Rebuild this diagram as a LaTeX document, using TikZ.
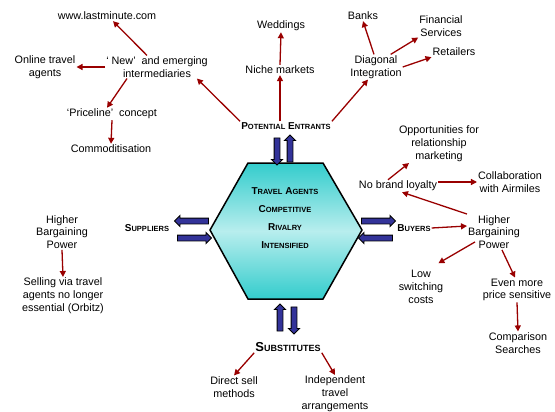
\documentclass[tikz,border=0pt]{standalone}
\usepackage{fontspec}
\setmainfont{Liberation Sans}
\usetikzlibrary{arrows.meta,shapes.arrows}
\definecolor{arrowred}{HTML}{990000}
\definecolor{blockblue}{HTML}{333399}
\definecolor{hexteal}{HTML}{33CCCC}
\definecolor{hexlight}{HTML}{B8EEEE}
\newcommand{\smcap}[2]{{\fontsize{10}{11}\selectfont #1}{\fontsize{7.5}{8}\selectfont #2}}
\tikzset{
  lbl/.style={align=center, inner sep=1pt, font=\fontsize{10.8}{12.8}\selectfont},
  force/.style={inner sep=1pt, font=\bfseries},
  block/.style={single arrow, draw=black, fill=blockblue, line width=0.9pt,
    inner sep=2.5pt, single arrow head extend=2.5pt, minimum height=#1},
  block/.default=27pt,
}
\begin{document}
\begin{tikzpicture}[x=1pt, y=-1pt, >={Triangle[length=6pt,width=6pt]},
    every edge/.style={draw, arrowred, line width=1.3pt}]
    \useasboundingbox (0,0) rectangle (555,412);
    \path[draw, line width=1.5pt, top color=hexteal, bottom color=hexteal, middle color=hexlight]
      (248,163) -- (323,163) -- (362,230) -- (323,299) -- (248,299) -- (210,230) -- cycle;
    \node (rivalry) at (285,218) [align=center, inner sep=1pt, font=\bfseries]
      {\smcap{T}{RAVEL} \smcap{A}{GENTS}\\[6pt]\smcap{C}{OMPETITIVE}\\[6pt]\smcap{R}{IVALRY}\\[6pt]\smcap{I}{NTENSIFIED}};
    \node (pe_in) at (277,150) [block, rotate=-90] {};
    \node (pe_out) at (290,150) [block, rotate=90] {};
    \node (sup_out) at (193,221) [block=34pt, rotate=180] {};
    \node (sup_in) at (193,238) [block=34pt] {};
    \node (buy_out) at (377,221) [block=34pt] {};
    \node (buy_in) at (377,238) [block=34pt, rotate=180] {};
    \node (sub_in) at (280,319) [block, rotate=90] {};
    \node (sub_out) at (294,319) [block, rotate=-90] {};
    \node (pe) at (286,126) [force] {\smcap{P}{OTENTIAL} \smcap{E}{NTRANTS}};
    \node (sup) at (147,228) [force] {\smcap{S}{UPPLIERS}};
    \node (buyers) at (414,228) [force] {\smcap{B}{UYERS}};
    \node (subs) at (288,347) [force] {{\fontsize{13}{14}\selectfont S}{\fontsize{9}{10}\selectfont UBSTITUTES}};
    \node (lastmin) at (107,16) [lbl] {www.lastminute.com};
    \node (online) at (45,67) [lbl] {Online travel\\agents};
    \node (newint) at (157,67) [lbl] {‘ New’ \ and emerging\\intermediaries};
    \node (priceline) at (112,114) [lbl] {‘Priceline’ \ concept};
    \node (commod) at (111,149) [lbl] {Commoditisation};
    \node (niche) at (280,70) [lbl] {Niche markets};
    \node (wed) at (281,26) [lbl] {Weddings};
    \node (diag) at (376,67) [lbl] {Diagonal\\Integration};
    \node (banks) at (363,16) [lbl] {Banks};
    \node (fin) at (441,26) [lbl] {Financial\\Services};
    \node (retail) at (454,52) [lbl] {Retailers};
    \node (opp) at (439,144) [lbl] {Opportunities for\\relationship\\marketing};
    \node (nbl) at (398,186) [lbl] {No brand loyalty};
    \node (collab) at (510,182) [lbl] {Collaboration\\with Airmiles};
    \node (hbr) at (494,232) [lbl] {Higher\\Bargaining\\Power};
    \node (low) at (421,287) [lbl] {Low\\switching\\costs};
    \node (even) at (517,290) [lbl] {Even more\\price sensitive};
    \node (comp) at (518,343) [lbl] {Comparison\\Searches};
    \node (hbl) at (62,232) [lbl] {Higher\\Bargaining\\Power};
    \node (sell) at (63,296) [lbl] {Selling via travel\\agents no longer\\essential (Orbitz)};
    \node (direct) at (234,387) [lbl] {Direct sell\\methods};
    \node (indep) at (335,394) [lbl] {Independent\\travel\\arrangements};
    \path ([xshift=-10pt]newint.north) edge [->] ([xshift=6pt]lastmin.south);
    \path (newint.west) edge [->] (online.east);
    \path ([xshift=-30pt]newint.south) edge [->] ([xshift=-5pt]priceline.north);
    \path (priceline.south) edge [->] (commod.north);
    \path (pe.north west) edge [->] ([xshift=-12pt]newint.south east);
    \path ([xshift=-6pt]pe.north) edge [->] (niche.south);
    \path (niche.north) edge [->] (wed.south);
    \path (pe.north east) edge [->] ([xshift=-8pt]diag.south);
    \path ([xshift=-2pt]diag.north) edge [->] (banks.south);
    \path ([xshift=-12pt]diag.north east) edge [->] (fin.south west);
    \path (diag.east) edge [->] (retail.south west);
    \path ([xshift=-10pt]nbl.north) edge [->] ([xshift=-30pt]opp.south);
    \path ([yshift=4pt]nbl.east) edge [->] (collab.west);
    \path (hbr.north west) edge [->] ([xshift=4pt]nbl.south);
    \path (buyers.east) edge [->] ([yshift=6pt]hbr.west);
    \path ([xshift=8pt,yshift=8pt]hbr.south west) edge [->] ([xshift=-6pt,yshift=6pt]low.north east);
    \path ([xshift=8pt]hbr.south) edge [->] ([xshift=-2pt]even.north);
    \path (even.south) edge [->] (comp.north);
    \path (hbl.south) edge [->] (sell.north);
    \path (subs.south west) edge [->] (direct.north);
    \path (subs.south east) edge [->] (indep.north);
\end{tikzpicture}
\end{document}
